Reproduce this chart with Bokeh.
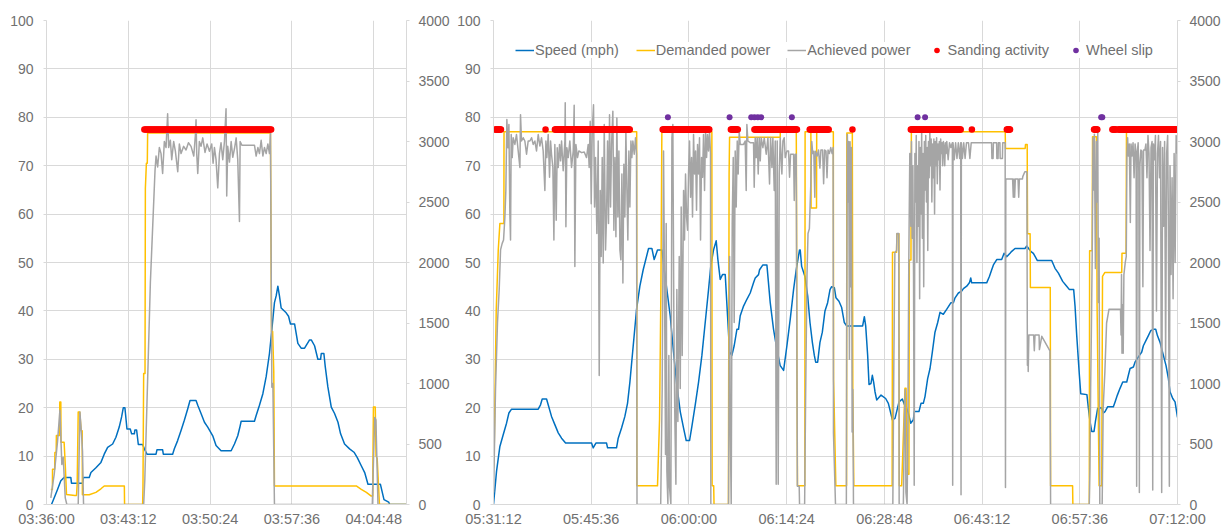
import numpy as np
from datetime import datetime, timezone
from bokeh.plotting import figure
from bokeh.models import (Range1d, LinearAxis, FixedTicker, DatetimeTickFormatter,
                          Legend, LegendItem)
from bokeh.layouts import row
from bokeh.embed import file_html
from bokeh.resources import INLINE

# ---------------- data ----------------
LEFT_START, LEFT_END = "03:36:00", "04:07:40.8"
RIGHT_START, RIGHT_END = "05:31:12", "07:12:00"
LEFT_TICKS = ["03:36:00", "03:43:12", "03:50:24", "03:57:36", "04:04:48"]
RIGHT_TICKS = ["05:31:12", "05:45:36", "06:00:00", "06:14:24", "06:28:48",
               "06:43:12", "06:57:36", "07:12:00"]
SPEED_TICKS = list(range(0, 101, 10))
POWER_TICKS = list(range(0, 4001, 500))
SANDING_LEVEL = 3100
SLIP_LEVEL = 3200
SAMPLE_STEP_MIN = 0.1

# (minutes after panel start, mph)
LEFT_SPEED = [(0.44, 0), (0.68, 1.4), (0.97, 3.1), (1.26, 4.9), (1.56, 5.6), (2.14, 5.6), (2.20, 4.4),
              (3.17, 4.4), (3.26, 5.6), (3.76, 5.6), (3.91, 6.6), (4.35, 7.6), (4.79, 8.7), (5.08, 10.4),
              (5.38, 11.8), (5.82, 12.5), (6.11, 13.9), (6.40, 16.0), (6.61, 18.1), (6.76, 20.0), (6.90, 20.0),
              (7.08, 15.6), (7.37, 15.6), (7.49, 14.6), (7.73, 14.6), (7.78, 15.4), (7.93, 15.4), (8.08, 12.4),
              (8.46, 12.4), (8.61, 11.5), (8.84, 10.4), (9.64, 10.4), (9.72, 11.3), (10.22, 11.3), (10.28, 10.4),
              (11.10, 10.4), (11.25, 11.5), (11.54, 13.2), (11.84, 15.3), (12.13, 17.4), (12.43, 19.8),
              (12.63, 21.5), (13.16, 21.5), (13.31, 20.5), (13.60, 18.8), (13.90, 17.0), (14.19, 16.0),
              (14.63, 14.2), (14.92, 12.2), (15.36, 11.1), (16.25, 11.1), (16.54, 12.5), (16.83, 14.2),
              (17.01, 15.9), (17.13, 17.2), (18.30, 17.2), (18.45, 18.4), (18.74, 20.5), (19.04, 22.9),
              (19.33, 26.4), (19.62, 31.2), (19.83, 36.1), (20.06, 41.7), (20.21, 43.1), (20.36, 45.1),
              (20.50, 43.1), (20.65, 40.6), (21.09, 39.6), (21.30, 38.9), (21.47, 37.3), (21.83, 37.3),
              (22.12, 33.3), (22.41, 32.3), (22.71, 32.3), (23.15, 34.0), (23.30, 34.0), (23.59, 32.8),
              (23.88, 30.0), (24.12, 30.0), (24.18, 31.2), (24.41, 31.2), (24.53, 28.5), (24.76, 24.3),
              (25.06, 20.1), (25.35, 18.8), (25.65, 17.0), (25.88, 14.6), (26.23, 12.5), (26.67, 11.5),
              (27.06, 10.8), (27.35, 9.7), (27.70, 8.0), (28.00, 6.6), (28.29, 4.2), (29.38, 4.2),
              (29.70, 1.0), (30.11, 0.5), (30.20, 0), (31.68, 0)]

# (minutes, kW)
LEFT_DEMANDED = [(0.38, 125), (0.52, 125), (0.53, 292), (0.72, 292), (0.74, 430), (0.85, 430), (0.87, 570),
                 (1.15, 570), (1.17, 847), (1.26, 847), (1.28, 514), (1.55, 514), (1.65, 330), (1.76, 83),
                 (2.50, 75), (2.64, 75), (2.70, 170), (2.79, 764), (2.93, 764), (3.05, 610), (3.14, 610),
                 (3.16, 80), (3.76, 80), (4.35, 100), (4.79, 130), (5.08, 153), (6.85, 153), (6.87, 0),
                 (8.46, 0), (8.49, 153), (8.55, 1083), (8.67, 1083), (8.70, 2611), (8.79, 2820), (8.87, 2820),
                 (8.90, 3070), (19.71, 3070), (19.80, 1430), (19.90, 1430), (20.00, 1100), (20.06, 153),
                 (27.26, 153), (27.70, 125), (28.15, 100), (28.58, 70), (28.70, 70), (28.77, 805), (28.93, 805),
                 (29.00, 400), (29.10, 380), (29.30, 0), (31.68, 0)]

LEFT_ACHIEVED = [(0.38, 55), (0.68, 250), (0.97, 520), (1.18, 778), (1.35, 330), (1.47, 390), (1.65, 55),
                 (1.79, 0), (2.79, 0), (2.94, 764), (3.08, 580), (3.17, 440), (3.26, 0), (8.55, 0), (8.65, 200),
                 (9.14, 1833), (9.55, 2760), (9.64, 2880), (9.78, 2790), (9.93, 2950), (10.08, 2900),
                 (10.22, 2736), (10.37, 3000), (10.52, 2950), (10.66, 3230), (10.75, 2950), (10.90, 3010),
                 (11.02, 2850), (11.19, 3000), (11.34, 2920), (11.55, 2750), (11.69, 2980), (11.84, 2900),
                 (12.07, 2960), (12.28, 2930), (12.49, 2990), (12.72, 2960), (12.96, 2880), (13.10, 3050),
                 (13.16, 3180), (13.22, 2900), (13.31, 2736), (13.45, 3000), (13.60, 2960), (13.75, 3030),
                 (13.95, 2910), (14.13, 2980), (14.34, 2920), (14.54, 2980), (14.66, 2820), (14.78, 2950),
                 (14.92, 2850), (15.07, 2617), (15.22, 2900), (15.36, 2990), (15.51, 2850), (15.66, 3000),
                 (15.80, 3270), (15.86, 2550), (15.95, 2960), (16.10, 2830), (16.25, 3000), (16.39, 2870),
                 (16.54, 2940), (16.69, 3030), (16.83, 2850), (16.98, 2339), (17.04, 3000), (17.19, 2970),
                 (18.30, 2970), (18.45, 2880), (18.60, 2950), (18.74, 2900), (18.89, 3010), (19.04, 2880),
                 (19.18, 2950), (19.33, 2900), (19.48, 2980), (19.62, 2900), (19.71, 3070), (19.83, 970),
                 (19.92, 1000), (20.06, 0), (28.67, 0), (28.88, 720), (28.99, 700), (29.08, 350), (29.17, 0),
                 (31.68, 0)]

LEFT_SANDING_RUNS = [(8.61, 19.77)]

RIGHT_SPEED = [(0.0, 0), (0.45, 6.9), (0.94, 12.0), (1.43, 14.4), (1.92, 16.8), (2.27, 18.9), (2.66, 19.7),
               (6.59, 19.7), (6.93, 20.6), (7.18, 21.8), (7.82, 21.8), (8.06, 20.6), (8.55, 18.2), (9.04, 16.5),
               (9.54, 14.8), (10.03, 13.7), (10.62, 12.7), (14.45, 12.7), (14.69, 11.7), (15.09, 12.7),
               (16.66, 12.7), (16.81, 11.7), (18.13, 11.7), (18.38, 13.7), (18.87, 15.8), (19.36, 18.2),
               (19.75, 20.9), (20.10, 25.3), (20.59, 32.8), (21.08, 40.3), (21.57, 45.1), (22.06, 48.5),
               (22.85, 52.9), (23.34, 52.9), (23.68, 50.6), (24.17, 52.6), (24.81, 52.6), (25.16, 48.5),
               (25.55, 44.4), (26.04, 39.0), (26.53, 31.5), (27.02, 24.6), (27.52, 19.2), (28.01, 15.8),
               (28.40, 13.2), (28.89, 13.2), (29.23, 16.1), (29.73, 20.6), (30.22, 25.3), (30.71, 30.8),
               (31.20, 37.6), (31.69, 44.4), (32.04, 49.5), (32.43, 52.6), (32.82, 54.5), (33.07, 50.6),
               (33.41, 46.5), (33.75, 47.5), (34.15, 47.5), (34.49, 39.0), (34.79, 31.5), (35.13, 30.8),
               (35.47, 32.8), (35.87, 36.2), (36.11, 36.2), (36.36, 39.0), (36.85, 41.0), (37.34, 42.4),
               (37.83, 43.7), (38.32, 45.8), (38.57, 46.8), (39.06, 47.5), (39.21, 48.5), (39.70, 49.5),
               (40.29, 49.5), (40.78, 41.7), (41.27, 36.2), (41.76, 32.1), (42.25, 28.7), (42.75, 27.7),
               (43.24, 32.8), (43.73, 38.3), (44.22, 44.4), (44.61, 48.5), (45.10, 52.6), (45.20, 52.6),
               (45.41, 49.2), (45.90, 47.1), (46.30, 43.1), (46.64, 37.6), (46.99, 33.5), (47.28, 30.8),
               (47.48, 29.4), (47.77, 29.4), (48.11, 33.5), (48.46, 35.6), (48.85, 40.0), (49.24, 41.7),
               (49.59, 44.4), (49.83, 45.0), (50.23, 44.8), (50.47, 42.7), (50.91, 42.0), (51.31, 40.7),
               (51.70, 37.6), (52.04, 36.9), (54.40, 36.9), (54.65, 38.8), (54.85, 36.9), (55.14, 30.8),
               (55.34, 24.8), (55.63, 25.0), (55.83, 26.7), (56.02, 25.3), (56.22, 23.3), (56.47, 21.6),
               (57.11, 22.6), (57.79, 21.9), (58.19, 20.9), (58.78, 17.5), (59.17, 17.8), (59.41, 19.2),
               (59.76, 21.2), (60.25, 21.8), (60.54, 20.7), (60.89, 19.9), (61.13, 18.9), (61.48, 16.8),
               (61.87, 17.5), (62.02, 19.2), (62.70, 19.2), (63.00, 20.9), (63.34, 20.9), (63.59, 22.3),
               (63.98, 26.0), (64.33, 28.1), (64.67, 31.5), (65.06, 35.6), (65.46, 37.6), (65.80, 39.7),
               (66.29, 39.3), (66.78, 40.3), (67.42, 41.7), (67.77, 41.7), (68.02, 42.7), (68.51, 43.7),
               (69.00, 44.1), (69.25, 44.6), (69.74, 45.1), (70.13, 45.8), (70.33, 46.8), (70.47, 45.8),
               (72.68, 45.8), (73.08, 47.1), (73.42, 48.5), (73.67, 49.5), (74.16, 50.6), (74.89, 50.6),
               (75.24, 51.9), (75.63, 51.2), (76.12, 51.9), (76.37, 52.3), (76.86, 52.9), (78.33, 52.9),
               (78.58, 53.4), (78.97, 52.7), (79.17, 52.3), (79.56, 51.9), (80.15, 50.4), (82.26, 50.4),
               (82.75, 48.8), (83.25, 47.8), (83.88, 46.1), (84.47, 45.1), (84.87, 44.4), (85.50, 44.4),
               (85.70, 41.0), (85.95, 34.9), (86.34, 26.7), (86.54, 22.9), (87.45, 22.7), (87.67, 19.9),
               (87.91, 17.1), (88.16, 15.1), (88.50, 15.1), (88.70, 17.1), (89.04, 19.9), (89.63, 20.0),
               (89.88, 18.9), (90.12, 19.2), (90.52, 20.2), (91.35, 20.2), (91.60, 21.2), (91.94, 22.6),
               (92.33, 24.0), (92.73, 25.3), (93.32, 25.3), (93.56, 26.7), (93.81, 28.1), (94.30, 28.4),
               (94.54, 29.4), (95.04, 30.5), (95.53, 31.5), (95.77, 32.8), (96.16, 33.9), (96.51, 34.9),
               (96.85, 35.9), (97.25, 36.2), (97.59, 36.2), (97.84, 34.9), (98.23, 33.5), (98.72, 30.8),
               (99.11, 28.7), (99.46, 26.0), (99.70, 23.3), (100.10, 21.9), (100.44, 21.2), (100.80, 18.0)]

RIGHT_DEMANDED = [(0.00, 300), (0.10, 440), (0.40, 1600), (0.70, 2100), (0.94, 2322), (1.53, 2322),
                  (1.55, 3080), (21.10, 3080), (21.13, 154), (24.17, 154), (24.47, 700), (24.67, 1780),
                  (24.81, 3080), (32.18, 3080), (32.22, 154), (32.45, 154), (32.50, 0), (34.62, 0),
                  (34.72, 2730), (34.79, 3035), (42.25, 3035), (42.27, 3080), (44.62, 3080), (44.66, 2460),
                  (44.72, 1100), (44.80, 154), (45.88, 154), (45.92, 3080), (46.77, 3080), (46.80, 2450),
                  (47.60, 2450), (47.63, 3080), (50.08, 3080), (50.12, 1030), (50.45, 154), (52.03, 154),
                  (52.07, 3070), (52.88, 3070), (52.95, 960), (53.10, 154), (58.75, 154), (58.80, 2084),
                  (59.40, 2084), (59.45, 2237), (59.75, 2237), (59.80, 154), (60.15, 154), (60.64, 960),
                  (60.80, 960), (60.99, 250), (61.22, 250), (61.28, 2020), (61.52, 2020), (61.58, 3080),
                  (75.41, 3080), (75.45, 2943), (78.35, 2943), (78.40, 2975), (78.65, 2975), (78.70, 2237),
                  (79.08, 2237), (79.12, 1794), (82.05, 1794), (82.10, 154), (85.34, 154), (85.38, 0),
                  (87.80, 0), (87.85, 2098), (88.22, 2098), (88.28, 3040), (88.85, 3040), (88.95, 1640),
                  (89.25, 154), (89.63, 154), (89.75, 1886), (90.10, 1918), (92.58, 1918), (92.62, 2076),
                  (93.22, 2076), (93.28, 3080), (100.80, 3080)]

RIGHT_ACHIEVED = [(0.02, 100), (0.30, 958), (0.59, 1504), (0.84, 1777), (1.04, 2104), (1.28, 2158),
                  (1.48, 2186), (1.68, 2376), (1.82, 2595), (1.97, 3181), (2.12, 2949), (2.27, 3140),
                  (2.41, 2404), (2.51, 2186), (2.61, 3058), (2.76, 2867), (2.90, 3031), (3.15, 2976),
                  (3.39, 3058), (3.64, 2922), (3.89, 2785), (3.98, 3222), (4.13, 3004), (4.38, 3031),
                  (4.62, 3004), (4.87, 2895), (5.11, 3004), (5.36, 3004), (5.61, 3031), (5.85, 2976),
                  (6.10, 3004), (6.34, 2922), (6.59, 3058), (6.83, 2963), (7.08, 3031), (7.32, 2922),
                  (7.57, 2595), (7.72, 3004), (7.86, 2867), (8.06, 3058), (8.26, 2704), (8.41, 3004),
                  (8.55, 2895), (8.75, 2785), (8.90, 2186), (9.04, 2976), (9.24, 2349), (9.39, 2949),
                  (9.54, 2785), (9.73, 2976), (9.88, 2840), (10.03, 3004), (10.27, 2758), (10.52, 3004),
                  (10.57, 3320), (10.67, 2295), (10.81, 2949), (11.01, 2867), (11.25, 3004), (11.50, 2785),
                  (11.75, 2922), (11.89, 3300), (11.99, 1967), (12.14, 2976), (12.38, 2867), (12.58, 2922),
                  (12.98, 2908), (13.37, 2913), (13.71, 2867), (13.96, 2976), (14.10, 2785), (14.25, 3167),
                  (14.40, 2486), (14.55, 3085), (14.74, 3304), (14.89, 2458), (15.04, 2867), (15.23, 2240),
                  (15.43, 3004), (15.58, 1067), (15.73, 2595), (15.87, 2049), (16.02, 2867), (16.17, 1995),
                  (16.32, 3140), (16.51, 2104), (16.66, 2376), (16.81, 3004), (16.95, 2322), (17.10, 3222),
                  (17.25, 2458), (17.40, 2976), (17.59, 3249), (17.74, 2267), (17.89, 2867), (18.04, 2213),
                  (18.18, 3195), (18.33, 2376), (18.48, 2922), (18.63, 2104), (18.77, 2022), (18.92, 2731),
                  (19.07, 1831), (19.21, 2813), (19.36, 2376), (19.51, 3085), (19.66, 2595), (19.80, 2186),
                  (19.95, 2922), (20.10, 2458), (20.25, 3004), (20.39, 2867), (20.54, 3004), (20.74, 2895),
                  (20.93, 3031), (21.08, 2895), (21.15, 0), (24.64, 0),
                  (24.86, 958), (25.06, 2922), (25.21, 1777), (25.35, 413), (25.45, 2322), (25.55, 277),
                  (25.70, 0), (25.84, 1231), (25.94, 140), (26.14, 0), (26.29, 3031), (26.43, 3140),
                  (26.58, 1504), (26.73, 686), (26.88, 168), (27.02, 1777), (27.17, 686), (27.37, 2049),
                  (27.52, 958), (27.66, 2458), (27.81, 1231), (28.01, 2595), (28.15, 2186), (28.30, 2731),
                  (28.45, 2376), (28.60, 2267), (28.74, 2731), (28.89, 3004), (29.04, 2540), (29.19, 2867),
                  (29.33, 2376), (29.48, 3058), (29.63, 2731), (29.78, 2922), (29.92, 2431), (30.07, 2976),
                  (30.22, 2731), (30.36, 3031), (30.51, 2186), (30.66, 2867), (30.81, 2704), (30.95, 3058),
                  (31.10, 2595), (31.25, 3085), (31.40, 2867), (31.54, 3058), (31.69, 2922), (31.84, 3085),
                  (31.98, 2900), (32.03, 0), (34.64, 0),
                  (34.79, 2049), (34.88, 686), (35.03, 0), (35.18, 2322), (35.33, 2867), (35.47, 1504),
                  (35.62, 2922), (35.77, 2458), (35.92, 3004), (36.06, 2731), (36.21, 3085), (36.36, 2976),
                  (36.85, 2976), (37.09, 3004), (37.24, 2595), (37.34, 3140), (37.49, 3004), (37.83, 2990),
                  (38.32, 2990), (38.42, 2622), (38.57, 3031), (38.72, 2867), (38.86, 3031), (39.01, 2731),
                  (39.16, 3031), (39.31, 2840), (39.45, 3031), (39.70, 2949), (39.90, 3031), (40.19, 2895),
                  (40.44, 3031), (40.68, 2649), (40.83, 3031), (41.03, 2785), (41.17, 3031), (41.37, 2595),
                  (41.52, 3004), (41.66, 168), (41.81, 3004), (41.96, 168), (42.11, 2731), (42.25, 3031),
                  (42.50, 2731), (42.65, 3004), (42.84, 3031), (42.99, 2867), (43.24, 2922), (43.48, 2922),
                  (43.63, 2704), (43.78, 2895), (44.22, 2895), (44.32, 2513), (44.46, 2895), (44.61, 2895),
                  (44.71, 1290), (44.78, 150), (45.05, 150), (45.10, 0), (45.85, 0), (46.00, 900),
                  (46.20, 1900), (46.35, 2240), (46.55, 2280), (46.75, 2630), (46.90, 3000), (47.05, 2900),
                  (47.20, 2920), (47.35, 2540), (47.45, 2920), (47.70, 2880), (47.90, 2930), (48.10, 2780),
                  (48.25, 2930), (48.50, 2930), (48.65, 2650), (48.80, 2930), (49.00, 2920), (49.15, 2700),
                  (49.30, 2930), (49.50, 2900), (49.70, 2950), (49.90, 2900), (50.05, 2950), (50.10, 590),
                  (50.40, 0), (52.00, 0), (52.05, 1500), (52.15, 3058), (52.25, 2500), (52.35, 3000),
                  (52.45, 1200), (52.55, 2998), (52.65, 1800), (52.75, 2950), (52.85, 600), (52.95, 950),
                  (53.05, 0), (58.85, 0), (59.00, 1200), (59.15, 2080), (59.40, 2100), (59.45, 2240),
                  (59.72, 2240), (59.78, 0), (60.40, 0), (60.55, 700), (60.68, 950), (60.78, 100), (60.95, 0),
                  (61.05, 500), (61.20, 2000), (61.35, 2900), (61.40, 2900), (61.50, 2300), (61.60, 3000),
                  (61.70, 2200), (61.80, 2800), (61.90, 1900), (62.00, 160), (62.10, 2900), (62.20, 2500),
                  (62.30, 3050), (62.40, 2000), (62.50, 2800), (62.60, 2300), (62.70, 3000), (62.80, 1700),
                  (62.90, 2950), (63.00, 2400), (63.10, 3100), (63.20, 2200), (63.30, 2900), (63.40, 1800),
                  (63.50, 3000), (63.60, 2600), (63.70, 3050), (63.80, 2500), (63.90, 2950), (64.00, 2100),
                  (64.10, 3000), (64.20, 2700), (64.30, 3100), (64.40, 2800), (64.50, 3020), (64.60, 2500),
                  (64.70, 2980), (64.80, 2700), (64.90, 3020), (65.00, 2400), (65.10, 3000), (65.20, 2800),
                  (65.30, 3030), (65.40, 2650), (65.50, 2980), (65.60, 2850), (65.70, 3000), (65.80, 2600),
                  (65.90, 3020), (66.00, 2900), (66.10, 2990), (66.20, 2800), (66.30, 3000), (66.40, 2950),
                  (66.50, 2800), (66.60, 2990), (66.70, 2900), (66.80, 3000), (67.00, 2850), (67.20, 2990),
                  (67.40, 2950), (67.62, 2990), (67.67, 160), (67.72, 2990), (67.90, 2850), (68.10, 2990),
                  (68.30, 2860), (68.50, 2990), (68.70, 2860), (68.85, 2990), (68.90, 80), (68.95, 2990),
                  (69.10, 2860), (69.30, 2990), (69.50, 2860), (69.70, 2990), (70.00, 2990), (70.20, 2860),
                  (70.40, 2990), (73.40, 2990), (73.45, 2860), (73.62, 2860), (73.67, 2990), (74.14, 2990),
                  (74.18, 2860), (74.36, 2860), (74.40, 2990), (74.63, 2990), (74.67, 2860), (75.00, 2860),
                  (75.04, 2990), (75.40, 2990), (75.45, 140), (75.50, 2690), (76.50, 2690), (76.60, 2540),
                  (76.70, 2690), (76.80, 2540), (76.90, 2690), (77.30, 2690), (77.40, 2540), (77.50, 2690),
                  (77.95, 2690), (78.00, 2710), (78.30, 2750), (78.60, 2750), (78.68, 1150), (78.75, 1400),
                  (78.80, 1100), (78.90, 1400), (79.60, 1400), (79.70, 1270), (79.80, 1400), (80.40, 1400),
                  (80.45, 1280), (80.80, 1390), (82.00, 1270), (82.10, 0), (87.80, 0), (87.90, 300),
                  (88.00, 958), (88.10, 1400), (88.25, 2180), (88.35, 3030), (88.45, 2600), (88.55, 3060),
                  (88.70, 1950), (88.85, 3000), (88.95, 2500), (89.05, 3080), (89.14, 1670), (89.25, 2200),
                  (89.35, 0), (89.70, 0), (89.85, 800), (90.10, 1100), (90.35, 1500), (90.70, 1613),
                  (92.40, 1613), (92.48, 1400), (92.55, 1900), (92.62, 1250), (92.70, 1650), (92.80, 1250),
                  (92.90, 1900), (93.10, 2000), (93.25, 2050), (93.35, 2900), (93.45, 3030), (93.55, 2880),
                  (93.70, 2980), (93.85, 2330), (93.95, 2980), (94.10, 2880), (94.25, 2990), (94.40, 2700),
                  (94.55, 2980), (94.70, 2900), (94.78, 150), (94.86, 2900), (95.00, 2990), (95.10, 2750),
                  (95.18, 100), (95.26, 2800), (95.40, 2930), (95.55, 2920), (95.70, 1800), (95.80, 2930),
                  (96.00, 2930), (96.15, 2980), (96.30, 2700), (96.45, 3050), (96.60, 2900), (96.75, 2100),
                  (96.90, 2950), (97.05, 3000), (97.15, 120), (97.25, 2980), (97.40, 2850), (97.55, 3050),
                  (97.70, 1600), (97.85, 2900), (98.00, 3050), (98.15, 2700), (98.30, 3000), (98.47, 100),
                  (98.60, 2950), (98.75, 2300), (98.90, 3000), (99.05, 1200), (99.20, 2900), (99.35, 3050),
                  (99.45, 2400), (99.60, 150), (99.70, 2800), (99.85, 1900), (100.00, 2700), (100.15, 1700),
                  (100.30, 2900), (100.45, 2000), (100.60, 3050), (100.80, 2900)]

RIGHT_SANDING_RUNS = [(0.25, 1.10), (7.67, 7.67), (9.05, 20.08), (24.93, 31.80), (34.98, 36.00),
                      (38.45, 44.72), (46.60, 49.40), (52.90, 52.90), (61.50, 68.85), (70.50, 70.50),
                      (75.65, 76.12), (88.50, 88.98), (91.20, 91.75), (92.10, 100.70)]
RIGHT_WHEEL_SLIP = [25.70, 34.79, 37.98, 38.45, 38.95, 39.45, 43.97, 62.50, 63.60, 89.55, 89.72]

LEGEND_LABELS = ["Speed (mph)", "Demanded power", "Achieved power", "Sanding activity", "Wheel slip"]

# ---------------- styling ----------------
BLUE, YELLOW, GRAY, RED, PURPLE = "#0070C0", "#FFC000", "#A5A5A5", "#FF0000", "#7030A0"
GRID = "#D9D9D9"
TXT = "#707070"
FONT = "Liberation Sans"

BASE_MS = datetime(2020, 1, 1, tzinfo=timezone.utc).timestamp() * 1000.0


def clock_ms(s):
    h, m, sec = s.split(":")
    return BASE_MS + (int(h) * 3600 + int(m) * 60 + float(sec)) * 1000.0


def to_xy(pairs, start):
    t0 = clock_ms(start)
    xs = [t0 + m * 60000.0 for m, _ in pairs]
    ys = [v for _, v in pairs]
    return xs, ys


def expand_runs(runs, start):
    t0 = clock_ms(start)
    pts = []
    for a, b in runs:
        n = int(round((b - a) / SAMPLE_STEP_MIN))
        pts.extend(np.linspace(a, b, n + 1).tolist())
    return [t0 + m * 60000.0 for m in pts]


def make_fig(width, start, end, ticks, bl, br):
    p = figure(width=width, height=529, x_axis_type="datetime", output_backend="svg",
               toolbar_location=None, x_range=Range1d(clock_ms(start), clock_ms(end)),
               y_range=Range1d(0, 100), min_border_left=bl, min_border_right=br,
               min_border_top=20, min_border_bottom=0)
    p.extra_y_ranges = {"power": Range1d(0, 4000)}
    p.outline_line_color = None
    p.background_fill_color = "white"
    p.border_fill_color = "white"

    xa = p.xaxis[0]
    xa.ticker = FixedTicker(ticks=[clock_ms(t) for t in ticks])
    fmt = "%H:%M:%S"
    xa.formatter = DatetimeTickFormatter(microseconds=fmt, milliseconds=fmt, seconds=fmt, minsec=fmt,
                                         minutes=fmt, hourmin=fmt, hours=fmt, days=fmt, months=fmt,
                                         years=fmt)
    xa.axis_line_color = GRID
    xa.major_tick_out = 0
    xa.major_tick_in = 0
    xa.minor_tick_line_color = None
    xa.major_label_standoff = 6
    xa.major_label_text_font = FONT
    xa.major_label_text_font_size = "14.5px"
    xa.major_label_text_color = TXT

    ya = p.yaxis[0]
    ya.ticker = FixedTicker(ticks=SPEED_TICKS)
    ya.axis_line_color = GRID
    ya.major_tick_line_color = GRID
    ya.major_tick_out = 3
    ya.major_tick_in = 0
    ya.minor_tick_line_color = None
    ya.major_label_standoff = 10
    ya.major_label_text_font = FONT
    ya.major_label_text_font_size = "14px"
    ya.major_label_text_color = TXT

    ra = LinearAxis(y_range_name="power", ticker=FixedTicker(ticks=POWER_TICKS))
    ra.axis_line_color = GRID
    ra.major_tick_line_color = GRID
    ra.major_tick_out = 3
    ra.major_tick_in = 0
    ra.minor_tick_line_color = None
    ra.major_label_standoff = 9
    ra.major_label_text_font = FONT
    ra.major_label_text_font_size = "14px"
    ra.major_label_text_color = TXT
    p.add_layout(ra, "right")

    p.xgrid.grid_line_color = GRID
    p.ygrid.grid_line_color = GRID
    return p


def draw(p, start, speed, demanded, achieved, sanding_runs, slip):
    x, y = to_xy(speed, start)
    r1 = p.line(x, y, line_color=BLUE, line_width=1.5, line_join="round")
    x, y = to_xy(demanded, start)
    r2 = p.line(x, y, line_color=YELLOW, line_width=1.5, line_join="round", y_range_name="power")
    x, y = to_xy(achieved, start)
    r3 = p.line(x, y, line_color=GRAY, line_width=1.5, line_join="round", y_range_name="power")
    sx = expand_runs(sanding_runs, start)
    r4 = p.scatter(sx, [SANDING_LEVEL] * len(sx), marker="circle", size=6.5, fill_color=RED,
                   line_color=None, y_range_name="power")
    t0 = clock_ms(start)
    wx = [t0 + m * 60000.0 for m in slip]
    r5 = p.scatter(wx, [SLIP_LEVEL] * len(wx), marker="circle", size=6, fill_color=PURPLE,
                   line_color=None, y_range_name="power")
    return [r1, r2, r3, r4, r5]


p1 = make_fig(452, LEFT_START, LEFT_END, LEFT_TICKS, 46, 46)
draw(p1, LEFT_START, LEFT_SPEED, LEFT_DEMANDED, LEFT_ACHIEVED, LEFT_SANDING_RUNS, [])

p2 = make_fig(772, RIGHT_START, RIGHT_END, RIGHT_TICKS, 41, 47)
rs = draw(p2, RIGHT_START, RIGHT_SPEED, RIGHT_DEMANDED, RIGHT_ACHIEVED, RIGHT_SANDING_RUNS, RIGHT_WHEEL_SLIP)

legend = Legend(items=[LegendItem(label=lab, renderers=[r]) for lab, r in zip(LEGEND_LABELS, rs)],
                orientation="horizontal", location="top_left")
legend.margin = 22
legend.padding = 12
legend.spacing = 17
legend.glyph_width = 19
legend.glyph_height = 14
legend.label_standoff = 1
legend.label_text_font = FONT
legend.label_text_font_size = "14.5px"
legend.label_text_color = TXT
legend.border_line_color = None
legend.background_fill_color = "white"
legend.background_fill_alpha = 1.0
p2.add_layout(legend)

layout = row(p1, p2)
open("out.html", "w").write(file_html(layout, INLINE, "Speed and power"))
